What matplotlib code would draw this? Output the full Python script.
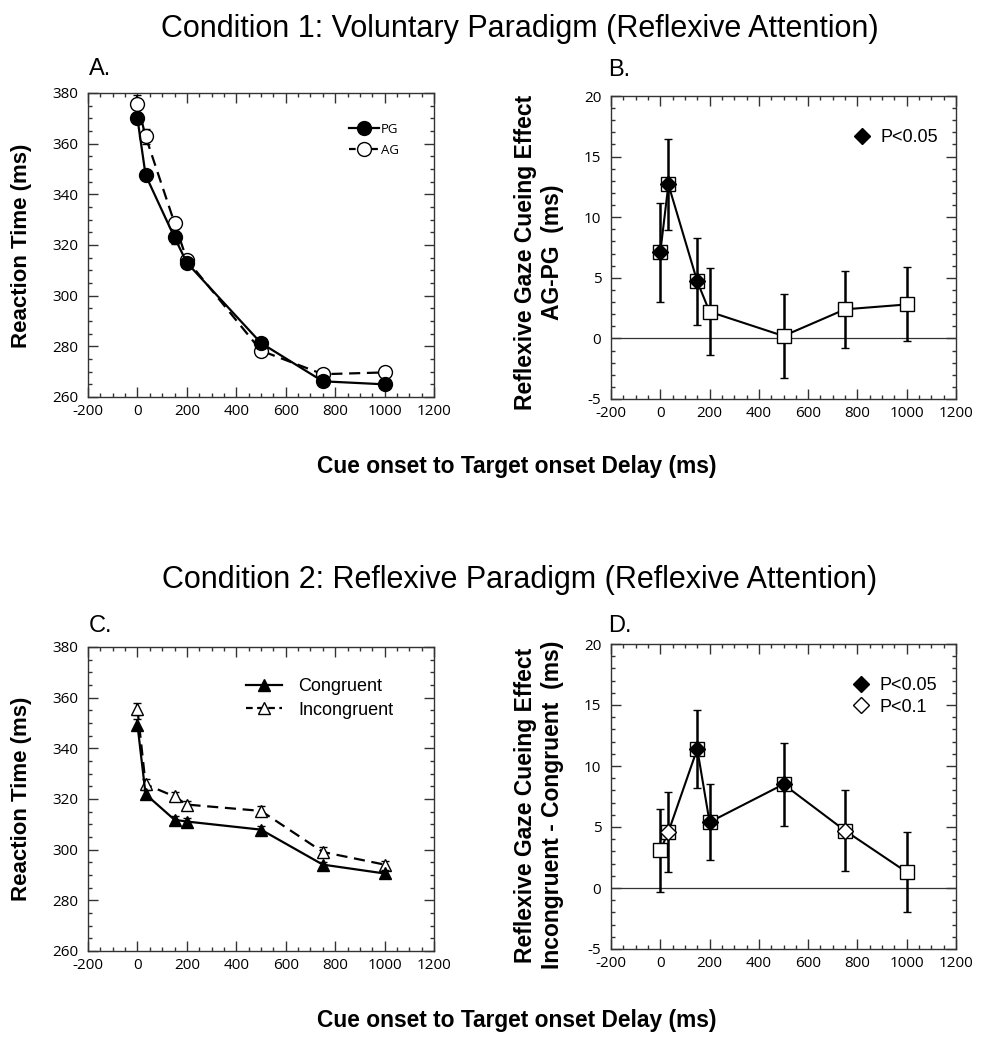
import matplotlib
matplotlib.use("Agg")
import matplotlib.pyplot as plt
from matplotlib.ticker import MultipleLocator
from matplotlib.lines import Line2D
import numpy as np

# ---------------- data ----------------
delays = [0, 33, 150, 200, 500, 750, 1000]

pg_rt = [370, 347.6, 323, 313, 281.3, 266.2, 265]
pg_err = [2.0, 1.5, 2.5, 1.5, 1.5, 1.0, 1.0]
ag_rt = [375.7, 362.9, 328.7, 314.2, 278.3, 269.0, 269.7]
ag_err = [3.5, 3.0, 2.5, 1.5, 1.5, 1.0, 1.5]

effB = [7.1, 12.7, 4.7, 2.2, 0.2, 2.4, 2.8]
effB_err = [4.1, 3.75, 3.6, 3.6, 3.5, 3.2, 3.05]
sigB05 = [True, True, True, False, False, False, False]

con_rt = [349.4, 321.9, 311.8, 311.1, 307.9, 294.1, 290.6]
con_err = [2.0, 1.5, 1.5, 1.5, 1.5, 1.2, 1.2]
inc_rt = [355.5, 325.8, 321.0, 317.8, 315.3, 299.1, 294.1]
inc_err = [2.5, 2.0, 1.8, 1.5, 2.0, 1.8, 1.5]

effD = [3.1, 4.6, 11.4, 5.4, 8.5, 4.7, 1.3]
effD_err = [3.4, 3.3, 3.2, 3.1, 3.4, 3.3, 3.3]
sigD05 = [False, False, True, True, True, False, False]
sigD10 = [False, True, False, False, False, True, False]

xticks = [-200, 0, 200, 400, 600, 800, 1000, 1200]
rt_ticks = [260, 280, 300, 320, 340, 360, 380]
eff_ticks = [-5, 0, 5, 10, 15, 20]

# ---------------- style ----------------
TICKFONT = "Open Sans"
SANS = "Liberation Sans"
W, H = 985, 1050
fig = plt.figure(figsize=(W / 100, H / 100), dpi=100)


def px_axes(l, t, r, b):
    return fig.add_axes([l / W, 1 - b / H, (r - l) / W, (b - t) / H])


def ftext(x, y, s, **kw):
    return fig.text(x / W, 1 - y / H, s, **kw)


def style(ax, ylim, yticks, yminor):
    ax.set_xlim(-200, 1200)
    ax.set_ylim(*ylim)
    ax.set_xticks(xticks)
    ax.set_xticklabels([str(t) for t in xticks], family=TICKFONT, fontsize=11)
    ax.set_yticks(yticks)
    ax.set_yticklabels([str(t) for t in yticks], family=TICKFONT, fontsize=11)
    ax.xaxis.set_minor_locator(MultipleLocator(50))
    ax.yaxis.set_minor_locator(MultipleLocator(yminor))
    ax.tick_params(which="both", direction="in", top=True, right=True,
                   color="#333333", width=1)
    ax.tick_params(which="major", length=7)
    ax.tick_params(which="minor", length=3)
    ax.tick_params(axis="x", which="major", pad=5)
    ax.tick_params(axis="y", which="major", pad=7)
    for s in ax.spines.values():
        s.set_color("#333333")
        s.set_linewidth(1)


# ---------------- Panel A ----------------
axA = px_axes(88, 93, 434, 397)
style(axA, (260, 380), rt_ticks, 5)
axA.errorbar(delays, ag_rt, yerr=ag_err, color="black", ls=(0, (5, 3)), lw=1.6,
             marker="o", ms=10, mfc="white", mec="black", mew=1.0,
             capsize=3, elinewidth=1.5, zorder=3)
axA.errorbar(delays, pg_rt, yerr=pg_err, color="black", ls="-", lw=1.6,
             marker="o", ms=10, mfc="black", mec="black",
             capsize=3, elinewidth=1.5, zorder=4)
hA = [Line2D([], [], color="black", ls="-", lw=1.6, marker="o", ms=10, mfc="black"),
      Line2D([], [], color="black", ls=(0, (3, 2)), lw=1.6, marker="o", ms=10, mfc="white")]
axA.legend(hA, ["PG", "AG"], loc="upper left", bbox_to_anchor=(0.72, 0.94),
           frameon=False, handlelength=2.3, handletextpad=0.1, labelspacing=0.6,
           prop={"family": TICKFONT, "size": 9.5})
ftext(22, 246, "Reaction Time (ms)", family=SANS, fontweight="bold", fontsize=16,
      rotation=90, ha="center", va="center")
ftext(89, 69, "A.", family=SANS, fontsize=17, va="center", ha="left")

# ---------------- Panel B ----------------
axB = px_axes(611, 96, 956, 399)
style(axB, (-5, 20), eff_ticks, 1)
axB.axhline(0, color="#333333", lw=0.9, zorder=1)
axB.errorbar(delays, effB, yerr=effB_err, color="black", lw=1.5, marker="s", ms=10,
             mfc="white", mec="black", mew=1.0, capsize=3, elinewidth=1.8,
             capthick=1.5, zorder=3)
xs = [d for d, s in zip(delays, sigB05) if s]
ys = [v for v, s in zip(effB, sigB05) if s]
axB.plot(xs, ys, ls="none", marker="D", ms=8, mfc="black", mec="black", zorder=5)
axB.legend([Line2D([], [], ls="none", marker="D", ms=8, mfc="black", mec="black")],
           ["P<0.05"], loc="upper left", bbox_to_anchor=(0.655, 0.945), frameon=False,
           handlelength=1.0, handletextpad=0.5, prop={"family": SANS, "size": 13})
ftext(539, 252, "Reflexive Gaze Cueing Effect\nAG-PG  (ms)", family=SANS,
      fontweight="bold", fontsize=16.5, rotation=90, ha="center", va="center",
      multialignment="center")
ftext(608, 70, "B.", family=SANS, fontsize=17, va="center", ha="left")

# ---------------- Panel C ----------------
axC = px_axes(88, 647, 434, 951)
style(axC, (260, 380), rt_ticks, 5)
axC.errorbar(delays, inc_rt, yerr=inc_err, color="black", ls=(0, (5, 3)), lw=1.6,
             marker="^", ms=9, mfc="white", mec="black", mew=1.0,
             capsize=3, elinewidth=1.5, zorder=3)
axC.errorbar(delays, con_rt, yerr=con_err, color="black", ls="-", lw=1.6,
             marker="^", ms=9, mfc="black", mec="black",
             capsize=3, elinewidth=1.5, zorder=4)
hC = [Line2D([], [], color="black", ls="-", lw=1.6, marker="^", ms=9, mfc="black"),
      Line2D([], [], color="black", ls=(0, (3, 2)), lw=1.6, marker="^", ms=9, mfc="white")]
axC.legend(hC, ["Congruent", "Incongruent"], loc="upper left", bbox_to_anchor=(0.41, 0.95),
           frameon=False, handlelength=2.0, handletextpad=0.9, labelspacing=0.35,
           prop={"family": SANS, "size": 13})
ftext(22, 799, "Reaction Time (ms)", family=SANS, fontweight="bold", fontsize=16,
      rotation=90, ha="center", va="center")
ftext(89, 626, "C.", family=SANS, fontsize=17, va="center", ha="left")

# ---------------- Panel D ----------------
axD = px_axes(611, 644, 956, 949)
style(axD, (-5, 20), eff_ticks, 1)
axD.axhline(0, color="#333333", lw=0.9, zorder=1)
axD.errorbar(delays, effD, yerr=effD_err, color="black", lw=1.5, marker="s", ms=10,
             mfc="white", mec="black", mew=1.0, capsize=3, elinewidth=1.8,
             capthick=1.5, zorder=3)
xs = [d for d, s in zip(delays, sigD05) if s]
ys = [v for v, s in zip(effD, sigD05) if s]
axD.plot(xs, ys, ls="none", marker="D", ms=8, mfc="black", mec="black", zorder=5)
xs = [d for d, s in zip(delays, sigD10) if s]
ys = [v for v, s in zip(effD, sigD10) if s]
axD.plot(xs, ys, ls="none", marker="D", ms=8, mfc="white", mec="black", mew=1.0, zorder=5)
hD = [Line2D([], [], ls="none", marker="D", ms=8, mfc="black", mec="black"),
      Line2D([], [], ls="none", marker="D", ms=8, mfc="white", mec="black", mew=1.0)]
axD.legend(hD, ["P<0.05", "P<0.1"], loc="upper left", bbox_to_anchor=(0.652, 0.945),
           frameon=False, handlelength=1.0, handletextpad=0.5, labelspacing=0.25,
           prop={"family": SANS, "size": 13})
ftext(539, 805, "Reflexive Gaze Cueing Effect\nIncongruent - Congruent  (ms)", family=SANS,
      fontweight="bold", fontsize=16.5, rotation=90, ha="center", va="center",
      multialignment="center")
ftext(608, 626, "D.", family=SANS, fontsize=17, va="center", ha="left")

# ---------------- titles & x labels ----------------
ftext(520, 29, "Condition 1: Voluntary Paradigm (Reflexive Attention)",
      family=SANS, fontsize=22, ha="center", va="center")
ftext(520, 580, "Condition 2: Reflexive Paradigm (Reflexive Attention)",
      family=SANS, fontsize=22, ha="center", va="center")
ftext(517, 466, "Cue onset to Target onset Delay (ms)",
      family=SANS, fontsize=16.4, fontweight="bold", ha="center", va="center")
ftext(517, 1020, "Cue onset to Target onset Delay (ms)",
      family=SANS, fontsize=16.4, fontweight="bold", ha="center", va="center")

fig.savefig("out.png", dpi=100, facecolor="white")
